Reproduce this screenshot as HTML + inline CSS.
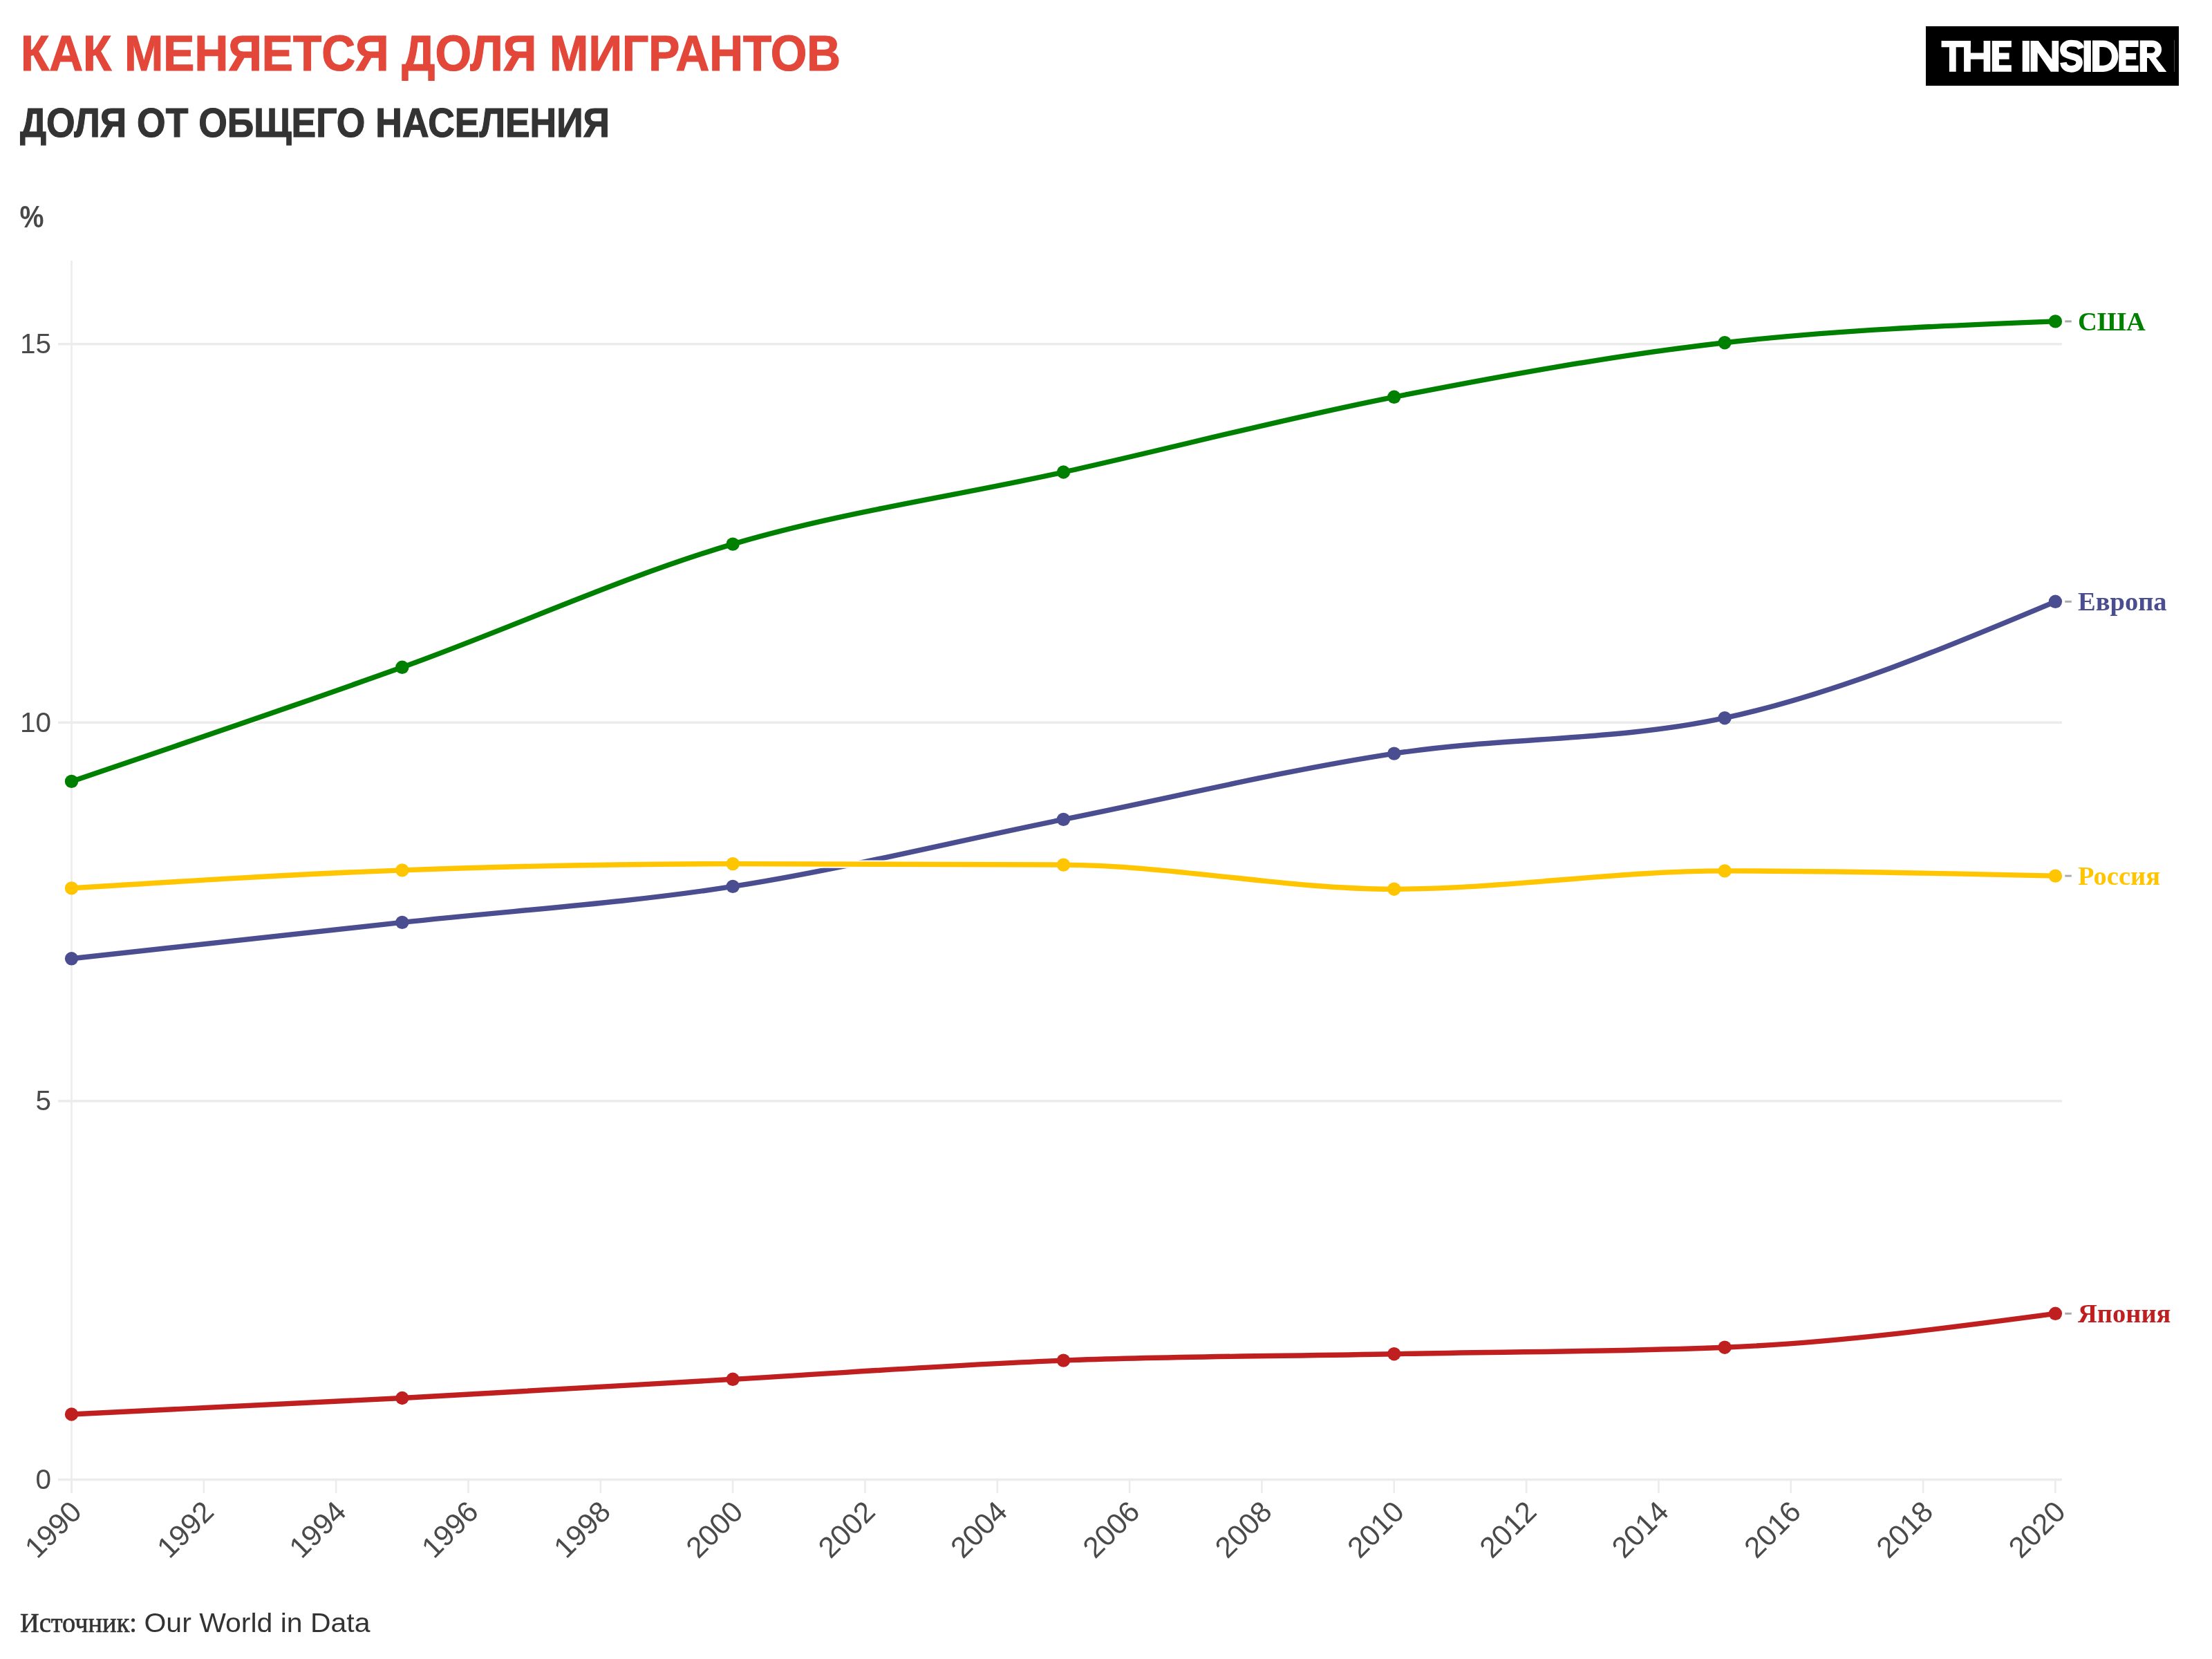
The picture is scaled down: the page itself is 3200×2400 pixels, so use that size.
<!DOCTYPE html>
<html><head><meta charset="utf-8"><style>
html,body{margin:0;padding:0;background:#fff;}
body{width:3200px;height:2400px;overflow:hidden;position:relative;}
svg{position:absolute;left:0;top:0;will-change:transform;}
</style></head><body>
<svg width="3200" height="2400" viewBox="0 0 3200 2400">
<rect x="0" y="0" width="3200" height="2400" fill="#fff"/>

<text x="30" y="102" font-family="Liberation Sans" font-weight="bold" font-size="73" fill="#e2473a" stroke="#e2473a" stroke-width="1.2" textLength="1186" lengthAdjust="spacingAndGlyphs">КАК МЕНЯЕТСЯ ДОЛЯ МИГРАНТОВ</text>
<text x="29" y="198" font-family="Liberation Sans" font-weight="bold" font-size="60" fill="#333333" stroke="#333333" stroke-width="1.2" textLength="853" lengthAdjust="spacingAndGlyphs">ДОЛЯ ОТ ОБЩЕГО НАСЕЛЕНИЯ</text>
<text x="28.5" y="329.3" font-family="Liberation Sans" font-weight="bold" font-size="44" fill="#484848" textLength="35" lengthAdjust="spacingAndGlyphs">%</text>
<rect x="2786" y="38" width="366" height="86" fill="#000"/>
<line x1="3145.5" y1="58" x2="3145.5" y2="104" stroke="#555" stroke-width="0.8"/>
<g transform="translate(2800,50) scale(0.08137)" fill="#fff"><path d="M105,110 H625 V225 H365 V662 H245 V225 H105 Z"/><path d="M505,110 H625 V325 H855 V110 H975 V662 H855 V440 H625 V662 H505 Z"/><path d="M1005,110 H1350 V225 H1130 V325 H1310 V440 H1130 V545 H1350 V662 H1005 Z"/><path d="M1545,110 H1670 V662 H1545 Z"/><path d="M1690,110 H1830 L2070,440 V110 H2190 V662 H2050 L1815,320 V662 H1690 Z"/></g>
<g transform="translate(2960,50) scale(0.0859)" fill="#fff"><path d="M590,235 C560,150 500,145 425,145 C330,145 290,200 290,255 C290,330 360,350 425,365 C520,385 560,410 560,470 C560,540 500,580 425,580 C350,580 300,545 290,470" fill="none" stroke="#fff" stroke-width="112"/><path d="M635,100 H755 V628 H635 Z"/><path fill-rule="evenodd" d="M780,100 H960 C1110,100 1215,210 1215,365 C1215,520 1110,628 960,628 H780 Z M900,210 V520 H960 C1050,520 1105,455 1105,365 C1105,275 1050,210 960,210 Z"/><path d="M1225,100 H1555 V210 H1345 V315 H1515 V420 H1345 V520 H1555 V628 H1225 Z"/><path fill-rule="evenodd" d="M1580,100 H1790 C1880,100 1945,165 1945,250 C1945,320 1905,375 1850,392 L2030,628 H1895 L1730,395 H1700 V628 H1580 Z M1700,210 V310 H1780 C1815,310 1835,285 1835,260 C1835,235 1815,210 1780,210 Z"/></g>
<line x1="84" y1="2140.50" x2="2983" y2="2140.50" stroke="#ececec" stroke-width="3.6"/>
<text x="74" y="2153.80" font-family="Liberation Sans" font-size="40.5" fill="#4a4a4a" text-anchor="end">0</text>
<line x1="84" y1="1592.90" x2="2983" y2="1592.90" stroke="#ececec" stroke-width="3.6"/>
<text x="74" y="1606.20" font-family="Liberation Sans" font-size="40.5" fill="#4a4a4a" text-anchor="end">5</text>
<line x1="84" y1="1045.30" x2="2983" y2="1045.30" stroke="#ececec" stroke-width="3.6"/>
<text x="74" y="1058.60" font-family="Liberation Sans" font-size="40.5" fill="#4a4a4a" text-anchor="end">10</text>
<line x1="84" y1="497.70" x2="2983" y2="497.70" stroke="#ececec" stroke-width="3.6"/>
<text x="74" y="511.00" font-family="Liberation Sans" font-size="40.5" fill="#4a4a4a" text-anchor="end">15</text>
<line x1="103.50" y1="377" x2="103.50" y2="2160" stroke="#ececec" stroke-width="2.6"/>
<line x1="103.50" y1="2140" x2="103.50" y2="2160" stroke="#ececec" stroke-width="2.6"/>
<text transform="translate(120.50,2189.5) rotate(-45)" font-family="Liberation Sans" font-size="42.5" fill="#4a4a4a" text-anchor="end">1990</text>
<line x1="294.83" y1="2140" x2="294.83" y2="2160" stroke="#ececec" stroke-width="2.6"/>
<text transform="translate(311.83,2189.5) rotate(-45)" font-family="Liberation Sans" font-size="42.5" fill="#4a4a4a" text-anchor="end">1992</text>
<line x1="486.15" y1="2140" x2="486.15" y2="2160" stroke="#ececec" stroke-width="2.6"/>
<text transform="translate(503.15,2189.5) rotate(-45)" font-family="Liberation Sans" font-size="42.5" fill="#4a4a4a" text-anchor="end">1994</text>
<line x1="677.48" y1="2140" x2="677.48" y2="2160" stroke="#ececec" stroke-width="2.6"/>
<text transform="translate(694.48,2189.5) rotate(-45)" font-family="Liberation Sans" font-size="42.5" fill="#4a4a4a" text-anchor="end">1996</text>
<line x1="868.81" y1="2140" x2="868.81" y2="2160" stroke="#ececec" stroke-width="2.6"/>
<text transform="translate(885.81,2189.5) rotate(-45)" font-family="Liberation Sans" font-size="42.5" fill="#4a4a4a" text-anchor="end">1998</text>
<line x1="1060.13" y1="2140" x2="1060.13" y2="2160" stroke="#ececec" stroke-width="2.6"/>
<text transform="translate(1077.13,2189.5) rotate(-45)" font-family="Liberation Sans" font-size="42.5" fill="#4a4a4a" text-anchor="end">2000</text>
<line x1="1251.46" y1="2140" x2="1251.46" y2="2160" stroke="#ececec" stroke-width="2.6"/>
<text transform="translate(1268.46,2189.5) rotate(-45)" font-family="Liberation Sans" font-size="42.5" fill="#4a4a4a" text-anchor="end">2002</text>
<line x1="1442.79" y1="2140" x2="1442.79" y2="2160" stroke="#ececec" stroke-width="2.6"/>
<text transform="translate(1459.79,2189.5) rotate(-45)" font-family="Liberation Sans" font-size="42.5" fill="#4a4a4a" text-anchor="end">2004</text>
<line x1="1634.11" y1="2140" x2="1634.11" y2="2160" stroke="#ececec" stroke-width="2.6"/>
<text transform="translate(1651.11,2189.5) rotate(-45)" font-family="Liberation Sans" font-size="42.5" fill="#4a4a4a" text-anchor="end">2006</text>
<line x1="1825.44" y1="2140" x2="1825.44" y2="2160" stroke="#ececec" stroke-width="2.6"/>
<text transform="translate(1842.44,2189.5) rotate(-45)" font-family="Liberation Sans" font-size="42.5" fill="#4a4a4a" text-anchor="end">2008</text>
<line x1="2016.77" y1="2140" x2="2016.77" y2="2160" stroke="#ececec" stroke-width="2.6"/>
<text transform="translate(2033.77,2189.5) rotate(-45)" font-family="Liberation Sans" font-size="42.5" fill="#4a4a4a" text-anchor="end">2010</text>
<line x1="2208.09" y1="2140" x2="2208.09" y2="2160" stroke="#ececec" stroke-width="2.6"/>
<text transform="translate(2225.09,2189.5) rotate(-45)" font-family="Liberation Sans" font-size="42.5" fill="#4a4a4a" text-anchor="end">2012</text>
<line x1="2399.42" y1="2140" x2="2399.42" y2="2160" stroke="#ececec" stroke-width="2.6"/>
<text transform="translate(2416.42,2189.5) rotate(-45)" font-family="Liberation Sans" font-size="42.5" fill="#4a4a4a" text-anchor="end">2014</text>
<line x1="2590.75" y1="2140" x2="2590.75" y2="2160" stroke="#ececec" stroke-width="2.6"/>
<text transform="translate(2607.75,2189.5) rotate(-45)" font-family="Liberation Sans" font-size="42.5" fill="#4a4a4a" text-anchor="end">2016</text>
<line x1="2782.07" y1="2140" x2="2782.07" y2="2160" stroke="#ececec" stroke-width="2.6"/>
<text transform="translate(2799.07,2189.5) rotate(-45)" font-family="Liberation Sans" font-size="42.5" fill="#4a4a4a" text-anchor="end">2018</text>
<line x1="2973.40" y1="2140" x2="2973.40" y2="2160" stroke="#ececec" stroke-width="2.6"/>
<text transform="translate(2990.40,2189.5) rotate(-45)" font-family="Liberation Sans" font-size="42.5" fill="#4a4a4a" text-anchor="end">2020</text>
<path d="M103.50,1130.40 C262.94,1076.46 422.38,1022.52 581.82,965.30 C741.26,908.08 900.69,834.15 1060.13,787.10 C1219.57,740.05 1379.01,718.47 1538.45,683.00 C1697.89,647.53 1857.33,605.52 2016.77,574.30 C2176.21,543.08 2335.64,513.93 2495.08,495.70 C2654.52,477.47 2813.96,471.18 2973.40,464.90" fill="none" stroke="#fff" stroke-width="11.4" stroke-linejoin="round"/>
<path d="M103.50,1130.40 C262.94,1076.46 422.38,1022.52 581.82,965.30 C741.26,908.08 900.69,834.15 1060.13,787.10 C1219.57,740.05 1379.01,718.47 1538.45,683.00 C1697.89,647.53 1857.33,605.52 2016.77,574.30 C2176.21,543.08 2335.64,513.93 2495.08,495.70 C2654.52,477.47 2813.96,471.18 2973.40,464.90" fill="none" stroke="#008000" stroke-width="7.4" stroke-linejoin="round"/>
<circle cx="103.50" cy="1130.40" r="9.7" fill="#008000"/>
<circle cx="581.82" cy="965.30" r="9.7" fill="#008000"/>
<circle cx="1060.13" cy="787.10" r="9.7" fill="#008000"/>
<circle cx="1538.45" cy="683.00" r="9.7" fill="#008000"/>
<circle cx="2016.77" cy="574.30" r="9.7" fill="#008000"/>
<circle cx="2495.08" cy="495.70" r="9.7" fill="#008000"/>
<circle cx="2973.40" cy="464.90" r="9.7" fill="#008000"/>
<line x1="2987.3" y1="464.90" x2="2996.8" y2="464.90" stroke="#aaaaaa" stroke-width="3"/>
<text x="3006" y="477.50" font-family="Liberation Serif" font-weight="bold" font-size="38.5" fill="#008000">США</text>
<path d="M103.50,1386.80 C262.94,1369.30 422.38,1351.80 581.82,1334.40 C741.26,1317.00 900.69,1307.23 1060.13,1282.40 C1219.57,1257.57 1379.01,1217.45 1538.45,1185.40 C1697.89,1153.35 1857.33,1114.55 2016.77,1090.10 C2176.21,1065.65 2335.64,1072.97 2495.08,1038.70 C2654.52,1004.43 2813.96,937.37 2973.40,870.30" fill="none" stroke="#fff" stroke-width="11.4" stroke-linejoin="round"/>
<path d="M103.50,1386.80 C262.94,1369.30 422.38,1351.80 581.82,1334.40 C741.26,1317.00 900.69,1307.23 1060.13,1282.40 C1219.57,1257.57 1379.01,1217.45 1538.45,1185.40 C1697.89,1153.35 1857.33,1114.55 2016.77,1090.10 C2176.21,1065.65 2335.64,1072.97 2495.08,1038.70 C2654.52,1004.43 2813.96,937.37 2973.40,870.30" fill="none" stroke="#4a4d90" stroke-width="7.4" stroke-linejoin="round"/>
<circle cx="103.50" cy="1386.80" r="9.7" fill="#4a4d90"/>
<circle cx="581.82" cy="1334.40" r="9.7" fill="#4a4d90"/>
<circle cx="1060.13" cy="1282.40" r="9.7" fill="#4a4d90"/>
<circle cx="1538.45" cy="1185.40" r="9.7" fill="#4a4d90"/>
<circle cx="2016.77" cy="1090.10" r="9.7" fill="#4a4d90"/>
<circle cx="2495.08" cy="1038.70" r="9.7" fill="#4a4d90"/>
<circle cx="2973.40" cy="870.30" r="9.7" fill="#4a4d90"/>
<line x1="2987.3" y1="870.30" x2="2996.8" y2="870.30" stroke="#aaaaaa" stroke-width="3"/>
<text x="3006" y="883.00" font-family="Liberation Serif" font-weight="bold" font-size="38.5" fill="#4a4d90">Европа</text>
<path d="M103.50,1284.90 C262.94,1274.84 422.38,1264.78 581.82,1258.90 C741.26,1253.02 900.69,1249.60 1060.13,1249.60 C1219.57,1249.60 1379.01,1250.10 1538.45,1251.10 C1697.89,1252.10 1857.33,1286.20 2016.77,1286.20 C2176.21,1286.20 2335.64,1259.90 2495.08,1259.90 C2654.52,1259.90 2813.96,1263.50 2973.40,1267.10" fill="none" stroke="#fff" stroke-width="11.4" stroke-linejoin="round"/>
<path d="M103.50,1284.90 C262.94,1274.84 422.38,1264.78 581.82,1258.90 C741.26,1253.02 900.69,1249.60 1060.13,1249.60 C1219.57,1249.60 1379.01,1250.10 1538.45,1251.10 C1697.89,1252.10 1857.33,1286.20 2016.77,1286.20 C2176.21,1286.20 2335.64,1259.90 2495.08,1259.90 C2654.52,1259.90 2813.96,1263.50 2973.40,1267.10" fill="none" stroke="#ffc500" stroke-width="7.4" stroke-linejoin="round"/>
<circle cx="103.50" cy="1284.90" r="9.7" fill="#ffc500"/>
<circle cx="581.82" cy="1258.90" r="9.7" fill="#ffc500"/>
<circle cx="1060.13" cy="1249.60" r="9.7" fill="#ffc500"/>
<circle cx="1538.45" cy="1251.10" r="9.7" fill="#ffc500"/>
<circle cx="2016.77" cy="1286.20" r="9.7" fill="#ffc500"/>
<circle cx="2495.08" cy="1259.90" r="9.7" fill="#ffc500"/>
<circle cx="2973.40" cy="1267.10" r="9.7" fill="#ffc500"/>
<line x1="2987.3" y1="1267.10" x2="2996.8" y2="1267.10" stroke="#aaaaaa" stroke-width="3"/>
<text x="3006" y="1279.80" font-family="Liberation Serif" font-weight="bold" font-size="38.5" fill="#ffc500">Россия</text>
<path d="M103.50,2046.00 C262.94,2038.47 422.38,2030.95 581.82,2022.50 C741.26,2014.05 900.69,2004.37 1060.13,1995.30 C1219.57,1986.23 1379.01,1974.20 1538.45,1968.10 C1697.89,1962.00 1857.33,1961.85 2016.77,1958.70 C2176.21,1955.55 2335.64,1955.53 2495.08,1949.20 C2654.52,1942.87 2813.96,1921.58 2973.40,1900.30" fill="none" stroke="#fff" stroke-width="11.4" stroke-linejoin="round"/>
<path d="M103.50,2046.00 C262.94,2038.47 422.38,2030.95 581.82,2022.50 C741.26,2014.05 900.69,2004.37 1060.13,1995.30 C1219.57,1986.23 1379.01,1974.20 1538.45,1968.10 C1697.89,1962.00 1857.33,1961.85 2016.77,1958.70 C2176.21,1955.55 2335.64,1955.53 2495.08,1949.20 C2654.52,1942.87 2813.96,1921.58 2973.40,1900.30" fill="none" stroke="#c01f20" stroke-width="7.4" stroke-linejoin="round"/>
<circle cx="103.50" cy="2046.00" r="9.7" fill="#c01f20"/>
<circle cx="581.82" cy="2022.50" r="9.7" fill="#c01f20"/>
<circle cx="1060.13" cy="1995.30" r="9.7" fill="#c01f20"/>
<circle cx="1538.45" cy="1968.10" r="9.7" fill="#c01f20"/>
<circle cx="2016.77" cy="1958.70" r="9.7" fill="#c01f20"/>
<circle cx="2495.08" cy="1949.20" r="9.7" fill="#c01f20"/>
<circle cx="2973.40" cy="1900.30" r="9.7" fill="#c01f20"/>
<line x1="2987.3" y1="1900.30" x2="2996.8" y2="1900.30" stroke="#aaaaaa" stroke-width="3"/>
<text x="3006" y="1913.00" font-family="Liberation Serif" font-weight="bold" font-size="38.5" fill="#c01f20">Япония</text>
<text x="29" y="2360.5" font-family="Liberation Serif" font-size="40" fill="#333" stroke="#333" stroke-width="0.7" textLength="169" lengthAdjust="spacingAndGlyphs">Источник:</text>
<text x="208.5" y="2360.5" font-family="Liberation Sans" font-size="38" fill="#333" textLength="327" lengthAdjust="spacingAndGlyphs">Our World in Data</text>
</svg></body></html>
